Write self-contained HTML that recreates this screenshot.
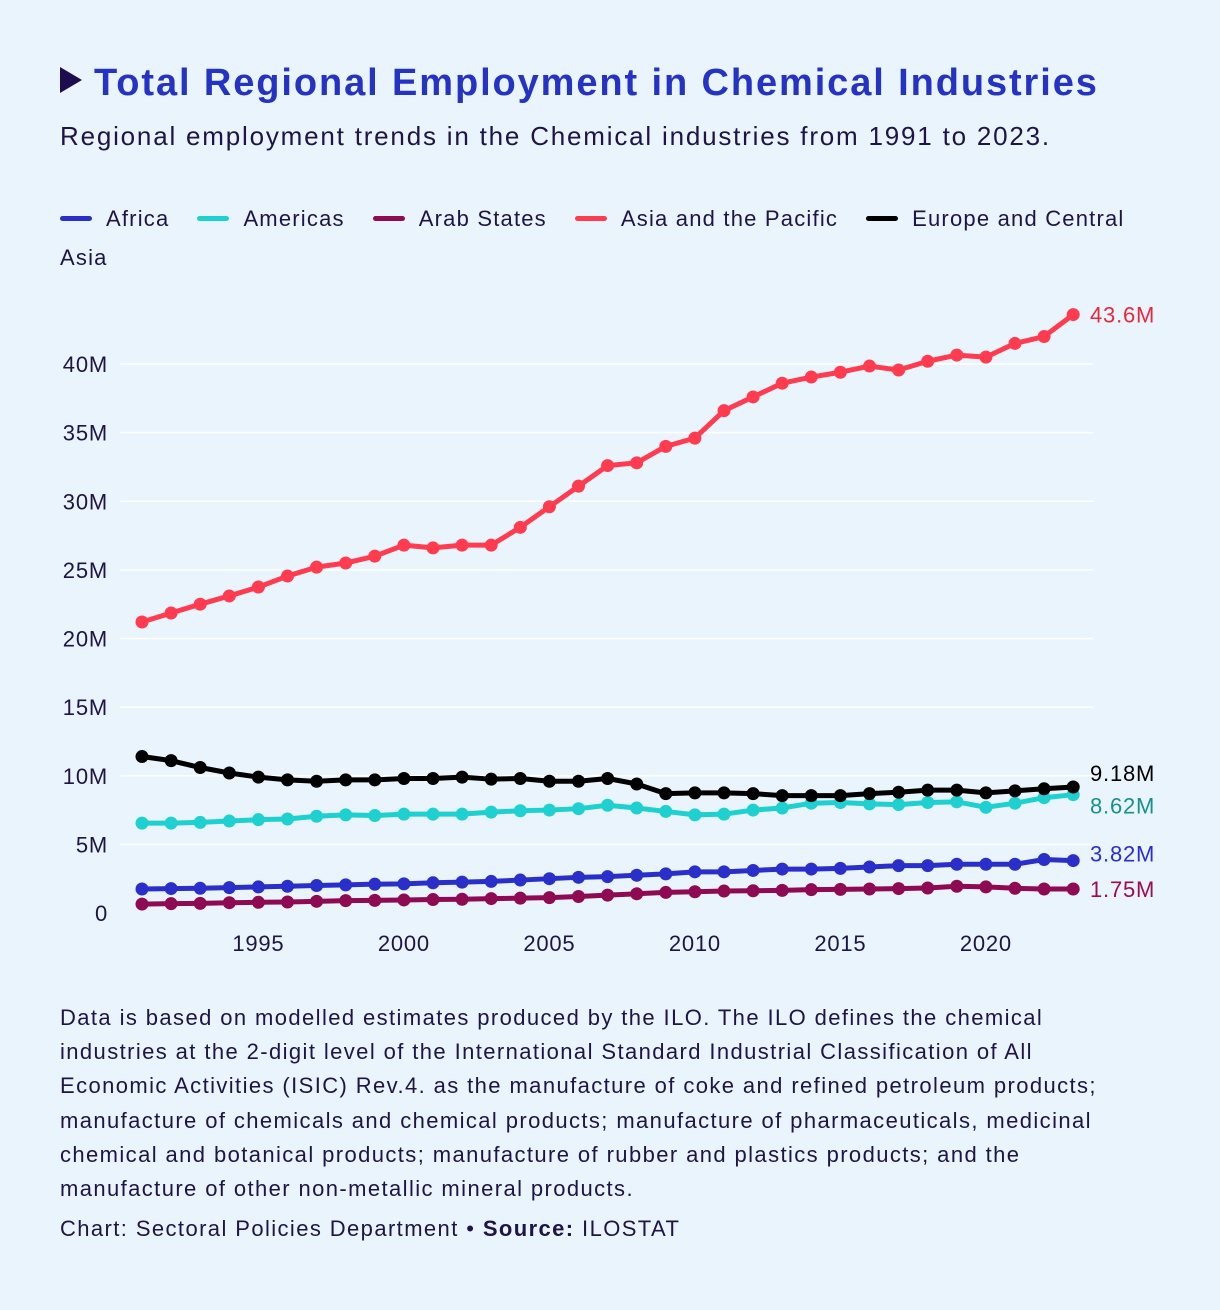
<!DOCTYPE html>
<html><head><meta charset="utf-8"><style>
body{margin:0;background:#eaf4fc;font-family:"Liberation Sans","DejaVu Sans",sans-serif;color:#1e1446}
#wrap{position:relative;width:1220px;height:1310px;overflow:hidden}
.title{position:absolute;left:60px;top:62px;font-size:38px;font-weight:bold;color:#2433c4;white-space:nowrap;letter-spacing:1.9px}
.tri{display:inline-block;width:0;height:0;border-left:22px solid #1e0c50;border-top:13px solid transparent;border-bottom:13px solid transparent;margin-right:12px;vertical-align:2px}
.sub{position:absolute;left:60px;top:121px;font-size:26px;letter-spacing:1.8px;white-space:nowrap}
.leg{position:absolute;left:60px;top:199px;width:1120px;font-size:22px;line-height:39px;letter-spacing:1.2px;white-space:nowrap}
.li{display:inline-block;margin-right:28px}
.sw{display:inline-block;width:32px;height:5px;border-radius:3px;vertical-align:5px;margin-right:14px}
.note{position:absolute;left:60px;top:1001px;font-size:22px;line-height:34.2px;letter-spacing:1.4px;white-space:nowrap}
.foot{position:absolute;left:60px;top:1216px;font-size:22px;letter-spacing:1.4px}
</style></head><body><div id="wrap">
<div class="title"><span class="tri"></span>Total Regional Employment in Chemical Industries</div>
<div class="sub">Regional employment trends in the Chemical industries from 1991 to 2023.</div>
<div class="leg">
<span class="li"><span class="sw" style="background:#2b2fc9"></span>Africa</span><span class="li"><span class="sw" style="background:#1fd0d0"></span>Americas</span><span class="li"><span class="sw" style="background:#8e0a52"></span>Arab States</span><span class="li"><span class="sw" style="background:#ff3b50"></span>Asia and the Pacific</span><span class="li" style="margin-right:0"><span class="sw" style="background:#000"></span>Europe and Central</span><br><span>Asia</span>
</div>
<svg id="chart" width="1220" height="1000" style="position:absolute;left:0;top:0"></svg>
<div class="note">Data is based on modelled estimates produced by the ILO. The ILO defines the chemical<br>industries at the 2-digit level of the International Standard Industrial Classification of All<br>Economic Activities (ISIC) Rev.4. as the manufacture of coke and refined petroleum products;<br>manufacture of chemicals and chemical products; manufacture of pharmaceuticals, medicinal<br>chemical and botanical products; manufacture of rubber and plastics products; and the<br>manufacture of other non-metallic mineral products.</div>
<div class="foot">Chart: Sectoral Policies Department • <b>Source:</b> ILOSTAT</div>
</div>
<script>
const years=[];for(let y=1991;y<=2023;y++)years.push(y);
const africa=[1.75,1.78,1.8,1.85,1.9,1.95,2.0,2.05,2.1,2.12,2.2,2.25,2.3,2.4,2.5,2.6,2.65,2.75,2.85,3.0,3.0,3.1,3.2,3.2,3.25,3.35,3.45,3.45,3.55,3.55,3.55,3.9,3.82];
const americas=[6.55,6.55,6.6,6.7,6.8,6.85,7.05,7.15,7.1,7.2,7.2,7.2,7.35,7.45,7.5,7.6,7.85,7.65,7.4,7.15,7.2,7.5,7.65,8.0,8.05,7.95,7.9,8.05,8.1,7.7,8.0,8.4,8.62];
const arab=[0.65,0.68,0.7,0.75,0.78,0.8,0.85,0.9,0.92,0.95,0.98,1.0,1.05,1.08,1.12,1.2,1.3,1.4,1.5,1.55,1.6,1.62,1.65,1.7,1.72,1.75,1.78,1.82,1.95,1.9,1.8,1.75,1.75];
const asia=[21.2,21.86,22.5,23.1,23.75,24.55,25.2,25.5,26.0,26.8,26.6,26.8,26.8,28.1,29.6,31.1,32.6,32.8,34.0,34.6,36.6,37.6,38.6,39.05,39.4,39.85,39.56,40.2,40.65,40.5,41.5,42.0,43.6];
const europe=[11.4,11.1,10.6,10.2,9.9,9.7,9.6,9.7,9.7,9.8,9.8,9.9,9.75,9.8,9.6,9.6,9.8,9.4,8.7,8.75,8.75,8.7,8.55,8.55,8.55,8.7,8.8,8.95,8.95,8.75,8.9,9.05,9.18];
const yTicks=[0,5,10,15,20,25,30,35,40];
const xTicks=[1995,2000,2005,2010,2015,2020];
const endLabels=["3.82M","8.62M","1.75M","43.6M","9.18M"];
const NS="http://www.w3.org/2000/svg",svg=document.getElementById('chart');
const x=v=>142+(v-1991)*29.1, y=v=>913-v*13.725;
function mk(t,a){const e=document.createElementNS(NS,t);for(const k in a)e.setAttribute(k,a[k]);svg.appendChild(e);return e;}
yTicks.forEach(t=>{
 if(t>0){const g=mk('line',{x1:120,x2:1093,y1:y(t),y2:y(t),stroke:'#fff','stroke-width':1.5});
 
 }
 const l=mk('text',{x:108,y:y(t)+8,'text-anchor':'end','font-size':22,'letter-spacing':0.8,fill:'#1e1446','font-family':'Liberation Sans, sans-serif'});
 l.textContent=t===0?'0':t+'M';
 
 
});
xTicks.forEach(t=>{const l=mk('text',{x:x(t),y:951,'text-anchor':'middle','font-size':22,'letter-spacing':0.8,fill:'#1e1446','font-family':'Liberation Sans, sans-serif'});l.textContent=t;
 
 });
const series=[[africa,'#2b2fc9','#2b2fc9','africa'],[americas,'#1fd0d0','#16918e','americas'],[arab,'#8e0a52','#9b0d50','arab-states'],[asia,'#ff3b50','#e8283c','asia-pacific'],[europe,'#000','#000','europe']];
series.forEach((s,i)=>{
 const d=s[0].map((v,j)=>(j?'L':'M')+x(years[j])+','+y(v)).join('');
 const p=mk('path',{d:d,fill:'none',stroke:s[1],'stroke-width':5,'stroke-linejoin':'round'});
 
 
 s[0].forEach((v,j)=>{const c=mk('circle',{cx:x(years[j]),cy:y(v),r:6.5,fill:s[1]});
  
  });
 const last=s[0][s[0].length-1];
 const off={3:8,1:19,2:8,0:1,4:-6}[i];
 const t=mk('text',{x:1090,y:y(last)+off,'font-size':22,'letter-spacing':0.8,fill:s[2],'font-family':'Liberation Sans, sans-serif'});
 t.textContent=endLabels[i];
 
 
});
</script></body></html>
